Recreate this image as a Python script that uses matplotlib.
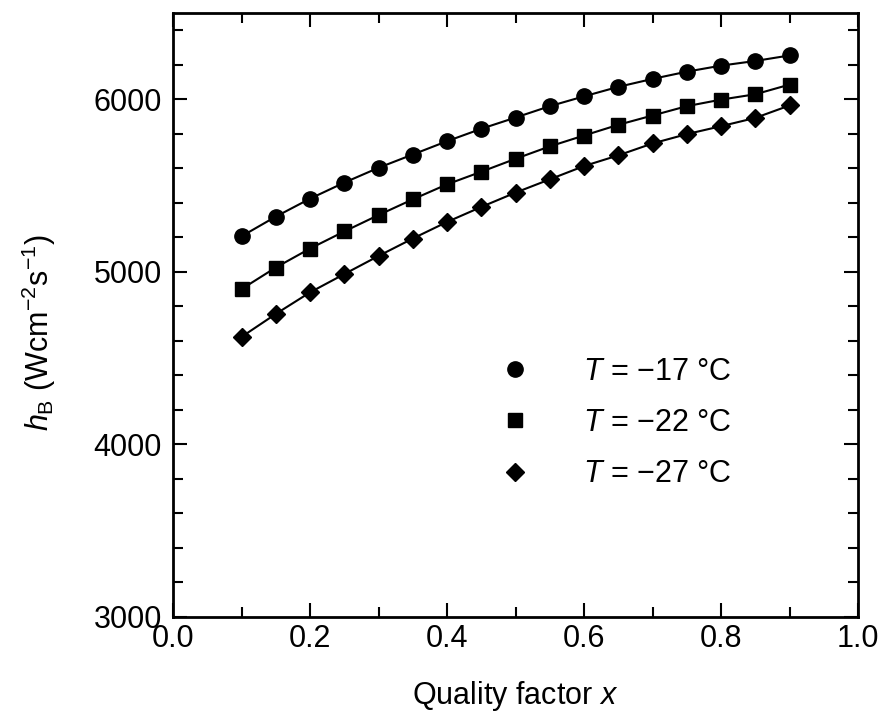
import matplotlib

matplotlib.use("Agg")
import matplotlib.pyplot as plt
from matplotlib.ticker import MultipleLocator, FormatStrFormatter

plt.rcParams["font.family"] = ["Liberation Sans", "DejaVu Sans"]
plt.rcParams["mathtext.fontset"] = "custom"
plt.rcParams["mathtext.rm"] = "Liberation Sans"
plt.rcParams["mathtext.it"] = "Liberation Sans:italic"

quality = [0.10, 0.15, 0.20, 0.25, 0.30, 0.35, 0.40, 0.45, 0.50,
           0.55, 0.60, 0.65, 0.70, 0.75, 0.80, 0.85, 0.90]
h_m17 = [5206, 5320, 5424, 5517, 5603, 5680, 5757, 5829, 5894,
         5960, 6017, 6072, 6118, 6160, 6195, 6222, 6254]
h_m22 = [4900, 5025, 5135, 5234, 5329, 5420, 5507, 5580, 5655,
         5727, 5790, 5852, 5906, 5960, 5998, 6029, 6085]
h_m27 = [4623, 4756, 4881, 4987, 5092, 5193, 5289, 5376, 5459,
         5536, 5613, 5675, 5744, 5798, 5844, 5892, 5964]
labels = [r"$T$ = −17 °C", r"$T$ = −22 °C", r"$T$ = −27 °C"]

FS = 22

fig = plt.figure(figsize=(8.85, 7.18), dpi=100)
ax = fig.add_axes([0.1955, 0.1407, 0.774, 0.8412])

series = [(h_m17, "o", 11), (h_m22, "s", 9.5), (h_m27, "D", 9.5)]
handles = []
for vals, mk, ms in series:
    ax.plot(quality, vals, "-", color="black", lw=1.5)
    h, = ax.plot(quality, vals, ls="", marker=mk, ms=ms, color="black")
    handles.append(h)

ax.set_xlim(0, 1.0)
ax.set_ylim(3000, 6500)
ax.xaxis.set_major_locator(MultipleLocator(0.2))
ax.xaxis.set_minor_locator(MultipleLocator(0.1))
ax.xaxis.set_major_formatter(FormatStrFormatter("%.1f"))
ax.yaxis.set_major_locator(MultipleLocator(1000))
ax.yaxis.set_minor_locator(MultipleLocator(200))
ax.tick_params(which="both", direction="in", top=True, right=True,
               width=1.5, labelsize=FS)
ax.tick_params(which="major", length=10)
ax.tick_params(axis="x", which="major", pad=5)
ax.tick_params(axis="y", which="major", pad=8)
ax.tick_params(which="minor", length=7)
for sp in ax.spines.values():
    sp.set_linewidth(2)

ax.set_xlabel(r"Quality factor $x$", fontsize=FS)
ax.set_ylabel(r"$h_\mathrm{B}$ (Wcm$^{\mathrm{-2}}$s$^{\mathrm{-1}}$)",
              fontsize=FS)
ax.xaxis.set_label_coords(0.5, -0.103)
ax.yaxis.set_label_coords(-0.168, 0.47)

ax.legend(handles, labels, loc="center left", bbox_to_anchor=(0.477, 0.321),
          frameon=False, fontsize=FS, handlelength=1.0, handletextpad=1.72,
          labelspacing=0.7, borderpad=0, borderaxespad=0)

fig.savefig("out.png", dpi=100, facecolor="white")
